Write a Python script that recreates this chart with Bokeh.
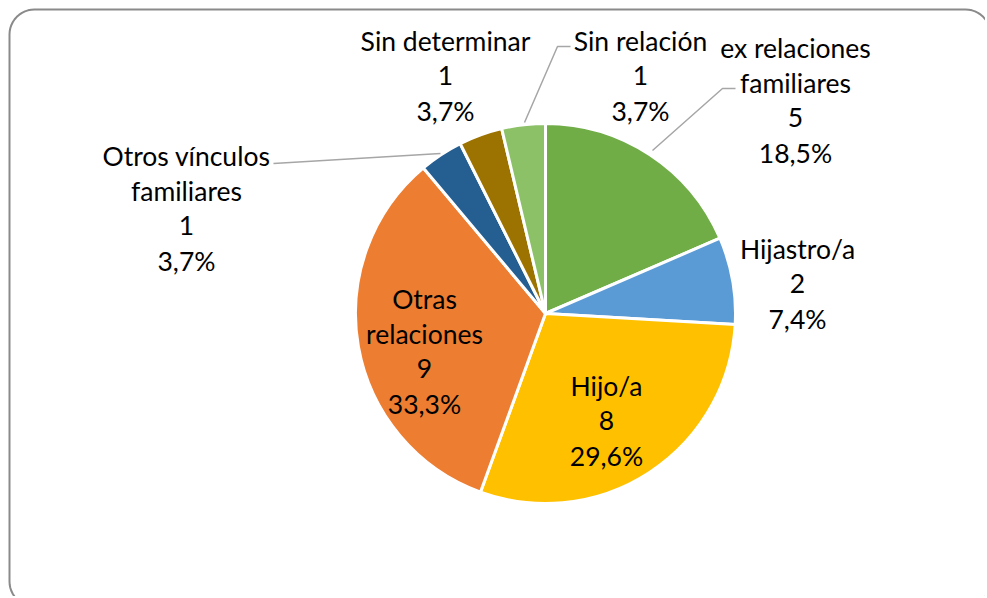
import math
from bokeh.plotting import figure
from bokeh.models import Range1d, ColumnDataSource
from bokeh.core.properties import value
from bokeh.embed import file_html
from bokeh.resources import INLINE

# ---- data ----
categories = ["ex relaciones familiares", "Hijastro/a", "Hijo/a", "Otras relaciones",
              "Otros vínculos familiares", "Sin determinar", "Sin relación"]
counts = [5, 2, 8, 9, 1, 1, 1]
colors = ["#70AD47", "#5B9BD5", "#FFC000", "#ED7D31", "#255E91", "#9C7200", "#8CC168"]

# ---- layout (page pixel coordinates) ----
W, H = 985, 596
OFF = 0
CX, CY, R = 545, 313, 190
label_pos = [(795, 47), (797, 248), (606, 385), (424, 298), (186, 155), (445, 40), (640, 40)]
LINE_STEP = 35
leader_paths = {
    "ex relaciones familiares": [(652, 150), (722, 88), (735, 88)],
    "Otros vínculos familiares": [(440, 153), (273, 163)],
    "Sin relación": [(524, 122), (557, 46), (570, 46)],
}
FONT = "Lato"
FSIZE = "26.5px"
BORDER = (9, 9, 990, 606, 25)  # left, top, right, bottom, corner radius


def py(y):
    return 598 - y


p = figure(width=W, height=H, output_backend="svg", toolbar_location=None,
           x_range=Range1d(OFF, OFF + W), y_range=Range1d(598 - OFF - H, 598 - OFF),
           min_border=0, outline_line_color=None)
p.axis.visible = False
p.grid.visible = False
p.background_fill_color = "white"
p.border_fill_color = "white"

# rounded chart border (decoration path)
bl, bt, br, bb, rr = BORDER
bx, by = [], []
corners = [(br - rr, bt + rr, -90, 0), (br - rr, bb - rr, 0, 90),
           (bl + rr, bb - rr, 90, 180), (bl + rr, bt + rr, 180, 270)]
for ccx, ccy, a0, a1 in corners:
    for k in range(13):
        a = math.radians(a0 + (a1 - a0) * k / 12)
        bx.append(ccx + rr * math.cos(a))
        by.append(py(ccy + rr * math.sin(a)))
bx.append(bx[0])
by.append(by[0])
p.line(bx, by, line_color="#8A8A8A", line_width=2)

total = sum(counts)
starts, ends = [], []
cum = 0
for c in counts:
    a0 = 90 - (cum + c) / total * 360
    a1 = 90 - cum / total * 360
    starts.append(math.radians(a0))
    ends.append(math.radians(a1))
    cum += c

src = ColumnDataSource(dict(start=starts, end=ends, color=colors))
p.wedge(x=CX, y=py(CY), radius=R, start_angle="start", end_angle="end",
        fill_color="color", line_color="white", line_width=3, source=src)

# leader lines
for name, pts in leader_paths.items():
    p.line([q[0] for q in pts], [py(q[1]) for q in pts], line_color="#A6A6A6", line_width=1.5)

# labels
tx, ty, tt = [], [], []
for name, c, (lx, ly) in zip(categories, counts, label_pos):
    if len(name) > 15 and " " in name:
        i = name.rfind(" ")
        lines = [name[:i], name[i + 1:]]
    else:
        lines = [name]
    pct = f"{c / total * 100:.1f}".replace(".", ",") + "%"
    lines += [str(c), pct]
    for k, s in enumerate(lines):
        tx.append(lx)
        ty.append(py(ly + k * LINE_STEP))
        tt.append(s)

p.text(x=tx, y=ty, text=tt, text_align="center", text_baseline="middle",
       text_font=value(FONT), text_font_size=FSIZE, text_color="#000000")

open("out.html", "w").write(file_html(p, INLINE))
